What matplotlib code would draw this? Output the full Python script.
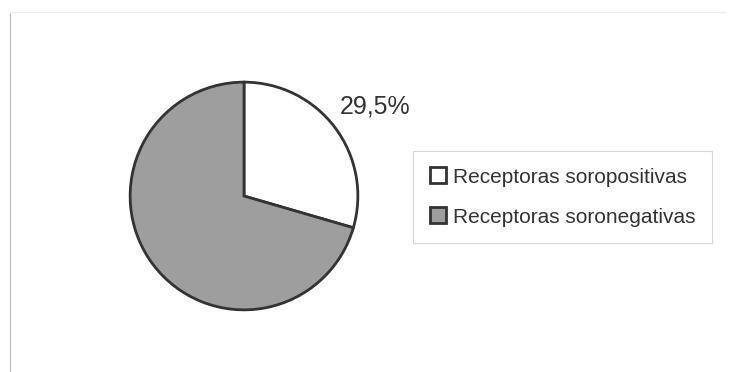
import numpy as np
import matplotlib
matplotlib.use("Agg")
import matplotlib.pyplot as plt

# dados
categorias = ["Receptoras soropositivas", "Receptoras soronegativas"]
valores = [29.5, 70.5]
rotulos = ["29,5%", ""]
cores = ["#ffffff", "#9e9e9e"]

plt.rcParams['font.family'] = ['Liberation Sans', 'DejaVu Sans']

W, H = 732, 372
fig = plt.figure(figsize=(W / 100, H / 100), dpi=100)

# pizza: centro (244,196) px, raio 115 px
cx, cy, r = 244, 196, 115
ax = fig.add_axes([(cx - r) / W, (H - cy - r) / H, 2 * r / W, 2 * r / H])
wedges, textos = ax.pie(valores, labels=rotulos, colors=cores, startangle=90,
                        counterclock=False, labeldistance=1.4,
                        wedgeprops=dict(edgecolor="#333333", linewidth=2),
                        textprops=dict(fontsize=18, color="#333333"))
for t in textos:
    t.set_clip_on(False)
    t.set_horizontalalignment("center")
    t.set_verticalalignment("center")
textos[0].set_position((1.15, 0.79))
ax.set_xlim(-1.01, 1.01)
ax.set_ylim(-1.01, 1.01)
ax.set_aspect("equal")
ax.axis("off")

leg = fig.legend(wedges, categorias, loc="center left",
                 bbox_to_anchor=(413 / W, (H - 197) / H), borderaxespad=0,
                 fontsize=15, frameon=True, fancybox=False,
                 edgecolor="#cccccc", handlelength=0.8, handleheight=0.8,
                 handletextpad=0.3, labelspacing=1.0, borderpad=0.8,
                 labelcolor="#333333")
leg.get_frame().set_linewidth(0.8)

# moldura fraca do gráfico
fig.add_artist(plt.Line2D([10 / W, 10 / W], [0, 1 - 12 / H], color="#bbbbbb", lw=0.8))
fig.add_artist(plt.Line2D([10 / W, 725 / W], [1 - 12 / H, 1 - 12 / H], color="#eeeeee", lw=0.8))

fig.savefig("out.png", dpi=100)
